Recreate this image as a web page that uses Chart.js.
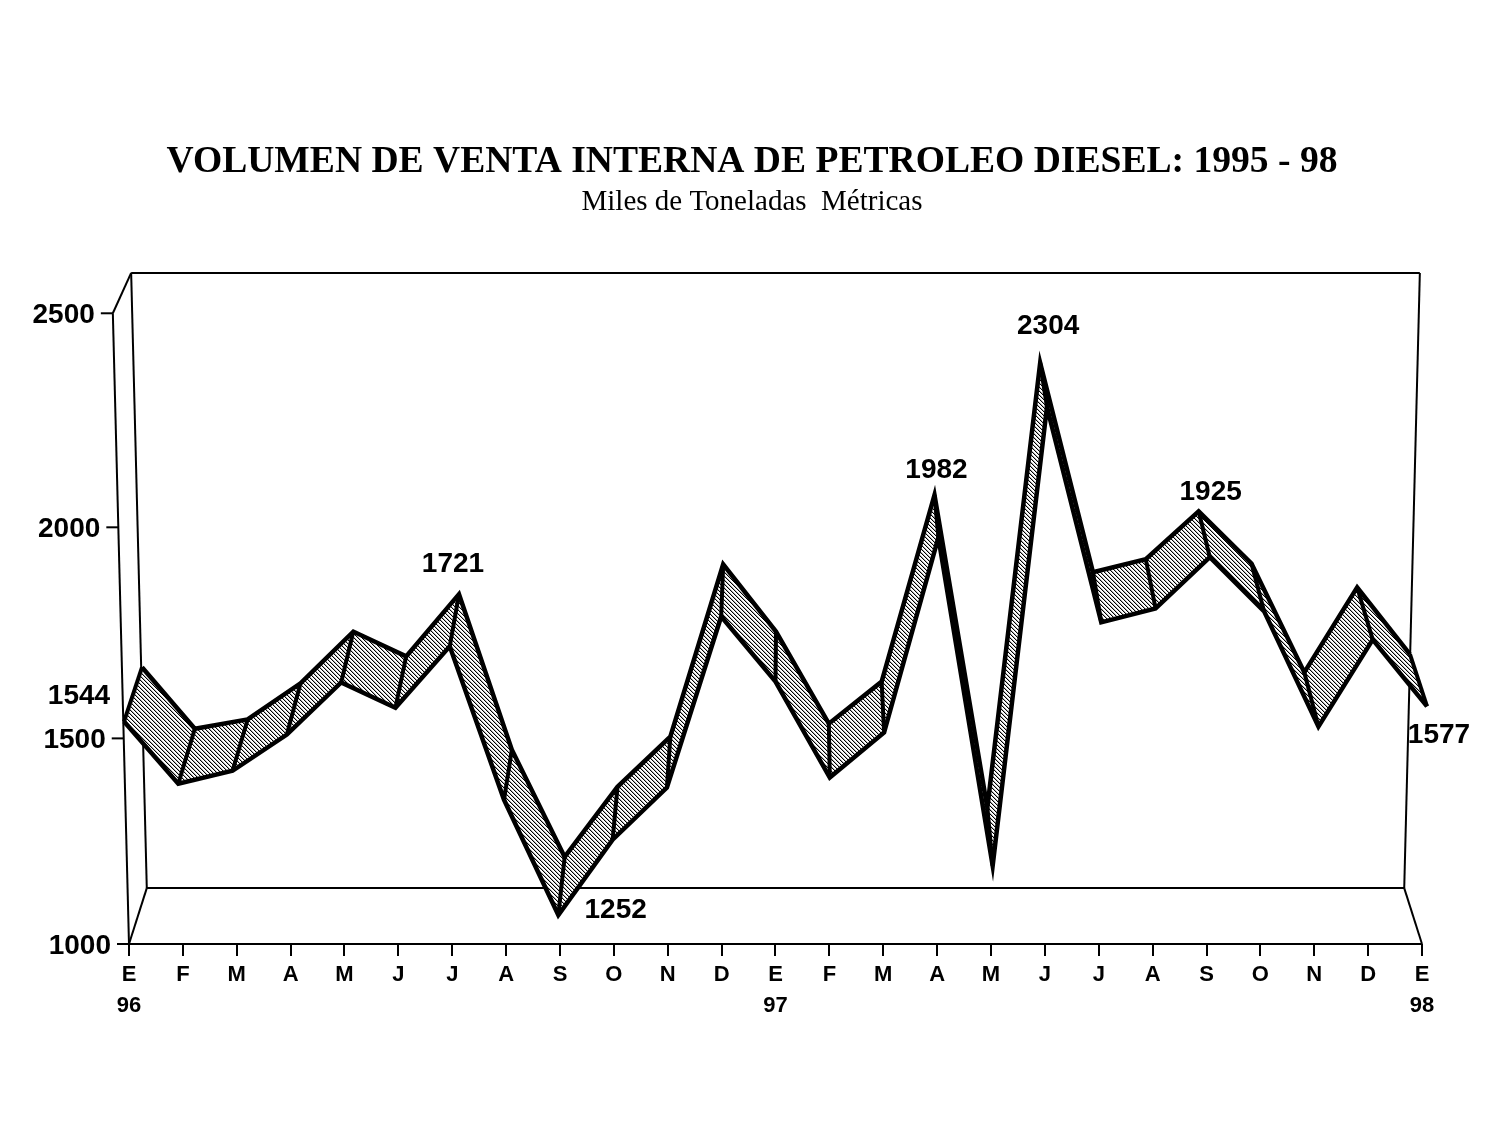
<!DOCTYPE html>
<html>
<head>
<meta charset="utf-8">
<title>Volumen de venta interna de petroleo diesel</title>
<script src="https://cdn.jsdelivr.net/npm/chart.js@4"></script>
<style>
    html, body { margin: 0; padding: 0; background: #fff; }
    #wrap { width: 1498px; height: 1125px; }
</style>
</head>
<body>
<div id="wrap"><canvas id="diesel" width="1498" height="1125"></canvas></div>
<script>
var months = ['E','F','M','A','M','J','J','A','S','O','N','D','E','F','M','A','M','J','J','A','S','O','N','D','E'];
var years = { 0: '96', 12: '97', 24: '98' };

// front edge of the ribbon and its back edge
var frontValues = [1529,1381,1412,1498,1622,1562,1708,1343,1069,1248,1372,1779,1624,1396,1503,1967,1186,2277,1765,1798,1920,1791,1517,1724,1565];
var backValues = [1658,1512,1534,1620,1743,1684,1832,1462,1207,1374,1493,1903,1743,1524,1624,2068,1324,2382,1884,1915,2029,1905,1646,1848,1689];

var yTickLabels = ['1000','1500','2000','2500'];
var yTickValues = [1000,1489,1991,2500]; // the printed axis is not quite even

var noteIndex = [0,6,8,15,17,20,24];
var noteText = ['1544','1721','1252','1982','2304','1925','1577'];

var AREA_LEFT = 64, AREA_RIGHT = 1440;
var SANS = '"Liberation Sans", Arial, sans-serif';
var SERIF = '"Liberation Serif", "Times New Roman", serif';

// each depth plane gets its own hidden x scale so month 0 and 24 land where they do in the 3d box
function plane(at0, at24){
    var u = (at24 - at0) / 24;
    return { type: 'linear', display: false, min: (AREA_LEFT - at0) / u, max: (AREA_RIGHT - at0) / u };
}

function hatch(){
    var c = document.createElement('canvas');
    c.width = 4; c.height = 4;
    var g = c.getContext('2d');
    g.fillStyle = '#fff';
    g.fillRect(0, 0, 4, 4);
    for (var i = 0; i < 4; i++){
        g.fillStyle = '#000';
        g.fillRect(i, i, 1, 1);
        g.fillStyle = 'rgba(0,0,0,0.3)';
        g.fillRect((i + 1) % 4, i, 1, 1);
    }
    return c;
}

function segment(ctx, x1, y1, x2, y2){
    ctx.beginPath();
    ctx.moveTo(x1, y1);
    ctx.lineTo(x2, y2);
    ctx.stroke();
}

var boxPlugin = {
    id: 'box',
    beforeDatasetsDraw: function(chart){
        var ctx = chart.ctx, sx = chart.scales.x, sy = chart.scales.y;
        var px = function(v){ return sx.getPixelForValue(v); };
        var py = function(v){ return sy.getPixelForValue(v); };
        ctx.save();
        ctx.strokeStyle = '#000';
        ctx.lineWidth = 2;

        // box outline, in axis units
        var edges = [
            [0,1000, 24,1000], [0,1000, 0.33,1133], [24,1000, 23.67,1133],
            [0.33,1133, 23.67,1133], [0.33,1133, 0.04,2596], [23.67,1133, 23.96,2596],
            [0.04,2596, 23.96,2596], [0,1000, -0.30,2500], [-0.30,2500, 0.04,2596]
        ];
        edges.forEach(function(e){ segment(ctx, px(e[0]), py(e[1]), px(e[2]), py(e[3])); });

        // y axis leans with the left side of the box
        ctx.fillStyle = '#000';
        ctx.font = 'bold 28px ' + SANS;
        ctx.textAlign = 'right';
        ctx.textBaseline = 'middle';
        yTickValues.forEach(function(v, i){
            var lean = px(-0.30 * (v - 1000) / 1500);
            segment(ctx, lean - 12, py(v), lean, py(v));
            ctx.fillText(yTickLabels[i], lean - 18, py(v) + 2);
        });

        // hatched ribbon, one quad per month
        var back = chart.getDatasetMeta(0).data, front = chart.getDatasetMeta(1).data;
        ctx.fillStyle = ctx.createPattern(hatch(), 'repeat');
        for (var i = 0; i < back.length - 1; i++){
            ctx.beginPath();
            ctx.moveTo(back[i].x, back[i].y);
            ctx.lineTo(back[i+1].x, back[i+1].y);
            ctx.lineTo(front[i+1].x, front[i+1].y);
            ctx.lineTo(front[i].x, front[i].y);
            ctx.closePath();
            ctx.fill();
        }
        ctx.lineWidth = 4;
        for (i = 0; i < back.length; i++){
            segment(ctx, back[i].x, back[i].y, front[i].x, front[i].y);
        }
        ctx.restore();
    },
    afterDatasetsDraw: function(chart){
        var ctx = chart.ctx;
        var back = chart.getDatasetMeta(0).data;
        // text offsets from the back edge point of each noted month
        var offsets = [[-63,29],[-6,-30],[51,53],[2,-25],[8,-37],[12,-19],[29,81]];
        ctx.save();
        ctx.fillStyle = '#000';
        ctx.font = 'bold 28px ' + SANS;
        ctx.textAlign = 'center';
        ctx.textBaseline = 'middle';
        noteIndex.forEach(function(m, i){
            ctx.fillText(noteText[i], back[m].x + offsets[i][0], back[m].y + offsets[i][1]);
        });
        ctx.restore();
    }
};

var axisX = {
    type: 'linear',
    min: (AREA_LEFT - 129) / ((1422 - 129) / 24),
    max: (AREA_RIGHT - 129) / ((1422 - 129) / 24),
    afterBuildTicks: function(scale){
        scale.ticks = months.map(function(m, i){ return { value: i }; });
    },
    afterFit: function(scale){ scale.height = 100; },
    border: { display: false },
    grid: { drawOnChartArea: false, drawTicks: true, tickLength: 12, lineWidth: 2, color: '#000', tickColor: '#000' },
    ticks: {
        autoSkip: false,
        maxRotation: 0,
        padding: 3,
        color: '#000',
        font: { family: SANS, size: 22, weight: 'bold', lineHeight: 1.42 },
        callback: function(v){
            return years[v] ? [months[v], years[v]] : months[v];
        }
    }
};

new Chart(document.getElementById('diesel'), {
    type: 'line',
    plugins: [boxPlugin],
    data: {
        datasets: [{
            label: 'fondo',
            xAxisID: 'xBack',
            data: backValues.map(function(v, i){ return { x: i, y: v }; }),
            borderColor: '#000',
            borderWidth: 4.5,
            borderJoinStyle: 'miter',
            pointRadius: 0,
            tension: 0,
            fill: false
        }, {
            label: 'frente',
            xAxisID: 'xFront',
            data: frontValues.map(function(v, i){ return { x: i, y: v }; }),
            borderColor: '#000',
            borderWidth: 4.5,
            borderJoinStyle: 'miter',
            pointRadius: 0,
            tension: 0,
            fill: false
        }]
    },
    options: {
        responsive: false,
        animation: false,
        devicePixelRatio: 1,
        layout: { padding: { top: 140, left: AREA_LEFT, right: 1498 - AREA_RIGHT, bottom: 81 } },
        scales: {
            x: axisX,
            xFront: plane(124, 1427),
            xBack: plane(142, 1410),
            y: { type: 'linear', display: false, min: 1000, max: 2596 }
        },
        plugins: {
            legend: { display: false },
            tooltip: { enabled: false },
            title: {
                display: true,
                text: 'VOLUMEN DE VENTA INTERNA DE PETROLEO DIESEL: 1995 - 98',
                color: '#000',
                font: { family: SERIF, size: 37.6, weight: 'bold', lineHeight: 1.2 },
                padding: { top: 0, bottom: 0 }
            },
            subtitle: {
                display: true,
                text: 'Miles de Toneladas  Métricas',
                color: '#000',
                font: { family: SERIF, size: 29, weight: 'normal', lineHeight: 1.2 },
                padding: { top: 0, bottom: 53 }
            }
        }
    }
});
</script>
</body>
</html>
